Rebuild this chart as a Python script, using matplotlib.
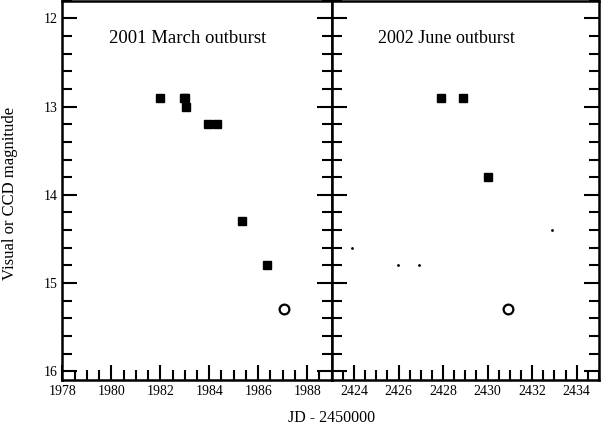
import matplotlib
matplotlib.use('Agg')
import matplotlib.pyplot as plt
from matplotlib.ticker import MultipleLocator

plt.rcParams['font.family'] = ['Liberation Serif', 'DejaVu Serif']

# 2001 March outburst
jd01 = [1982.0, 1982.95, 1983.02, 1983.07, 1983.95, 1984.3, 1985.33, 1986.35]
mag01 = [12.9, 12.9, 12.9, 13.0, 13.2, 13.2, 14.3, 14.8]
jd01_open = [1987.05]
mag01_open = [15.3]

# 2002 June outburst
jd02 = [2427.92, 2428.88, 2430.0]
mag02 = [12.9, 12.9, 13.8]
jd02_faint = [2423.92, 2425.97, 2426.92, 2432.9]
mag02_faint = [14.6, 14.8, 14.8, 14.4]
jd02_open = [2430.92]
mag02_open = [15.3]

fig = plt.figure(figsize=(6.02, 4.26), dpi=100)
ax1 = fig.add_axes([0.1035, 0.108, 0.551 - 0.1035, 0.89])
ax2 = fig.add_axes([0.551, 0.108, 0.995 - 0.551, 0.89])

ax1.plot(jd01, mag01, 's', color='black', markersize=5.5)
ax1.plot(jd01_open, mag01_open, 'o', mfc='white', mec='black', markersize=7, mew=1.6)
ax2.plot(jd02, mag02, 's', color='black', markersize=5.5)
ax2.plot(jd02_faint, mag02_faint, '.', color='black', markersize=2)
ax2.plot(jd02_open, mag02_open, 'o', mfc='white', mec='black', markersize=7, mew=1.6)

ax1.set_xlim(1978, 1989)
ax2.set_xlim(2423, 2435)
for ax in (ax1, ax2):
    ax.set_ylim(16.1, 11.8)
    ax.xaxis.set_major_locator(MultipleLocator(2))
    ax.xaxis.set_minor_locator(MultipleLocator(0.5))
    ax.yaxis.set_major_locator(MultipleLocator(1))
    ax.yaxis.set_minor_locator(MultipleLocator(0.2))
    ax.tick_params(which='both', direction='in', width=1.5, top=False,
                   left=True, right=True, labelsize=10)
    ax.tick_params(which='major', length=11)
    ax.tick_params(which='minor', length=7)
    for s in ax.spines.values():
        s.set_linewidth(1.8)

ax2.tick_params(labelleft=False)

ax1.text(0.467, 0.902, '2001 March outburst', transform=ax1.transAxes,
         ha='center', va='center', fontsize=13.5)
ax2.text(0.431, 0.902, '2002 June outburst', transform=ax2.transAxes,
         ha='center', va='center', fontsize=13)

fig.text(0.017, 0.545, 'Visual or CCD magnitude', rotation=90,
         ha='center', va='center', fontsize=12)
fig.text(0.551, 0.019, 'JD - 2450000', ha='center', va='center', fontsize=11.5)

fig.savefig('out.png', dpi=100)
